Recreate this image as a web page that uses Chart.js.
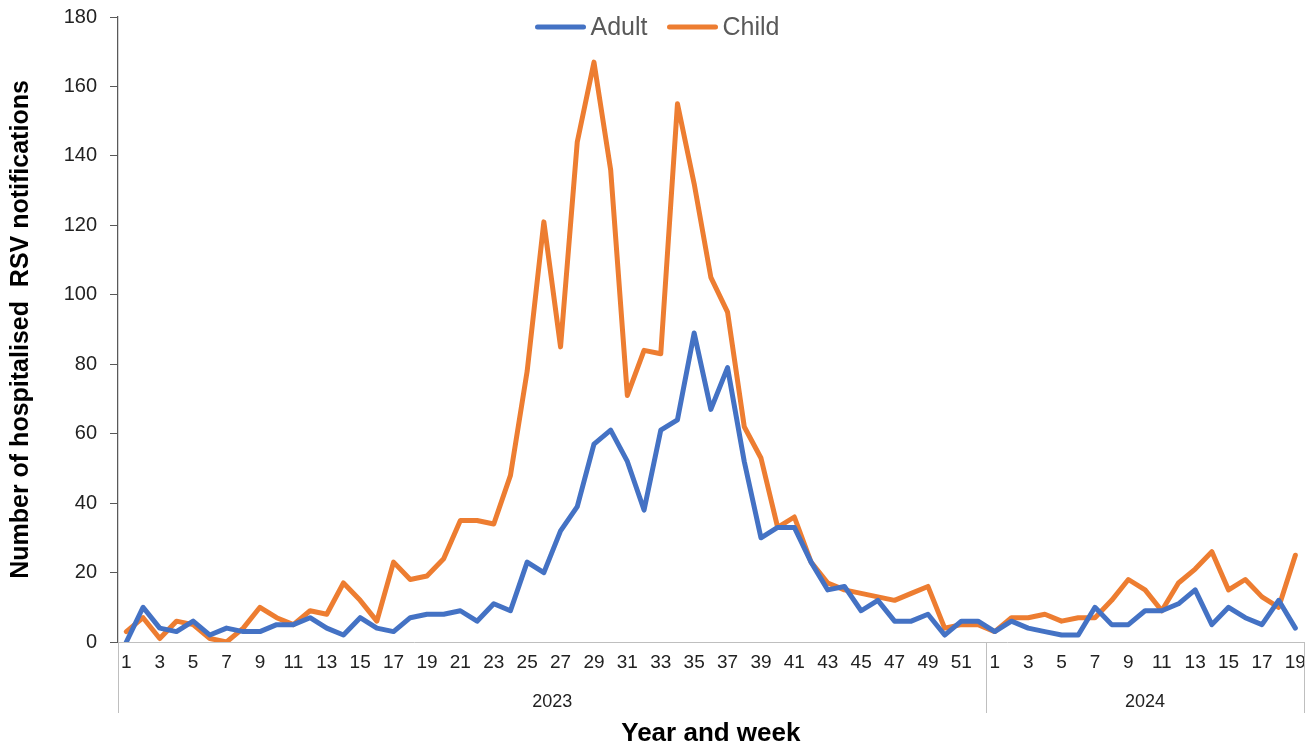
<!DOCTYPE html>
<html>
<head>
<meta charset="utf-8">
<title>Hospitalised RSV notifications</title>
<script src="https://cdn.jsdelivr.net/npm/chart.js@4.4.0/dist/chart.umd.min.js"></script>
<style>
  html, body { margin: 0; padding: 0; background: #fff; }
  #wrap { width: 1315px; height: 749px; position: relative; }
</style>
</head>
<body>
<div id="wrap"><canvas id="rsvChart"></canvas></div>
<script>
// Week labels (2023 weeks 1-52, then 2024 weeks 1-19)
const weekLabels = [
  1, 2, 3, 4, 5, 6, 7, 8, 9, 10, 11, 12, 13, 14, 15, 16, 17, 18, 19, 20,
  21, 22, 23, 24, 25, 26, 27, 28, 29, 30, 31, 32, 33, 34, 35, 36, 37, 38, 39, 40,
  41, 42, 43, 44, 45, 46, 47, 48, 49, 50, 51, 52,
  1, 2, 3, 4, 5, 6, 7, 8, 9, 10, 11, 12, 13, 14, 15, 16, 17, 18, 19
];
const yearLabels = ['2023', '2024'];
const weeksPerYear = [52, 19];

const adultValues = [
  0, 10, 4, 3, 6, 2, 4, 3, 3, 5, 5, 7, 4, 2, 7, 4, 3, 7, 8, 8,
  9, 6, 11, 9, 23, 20, 32, 39, 57, 61, 52, 38, 61, 64, 89, 67, 79, 52, 30, 33,
  33, 23, 15, 16, 9, 12, 6, 6, 8, 2, 6, 6,
  3, 6, 4, 3, 2, 2, 10, 5, 5, 9, 9, 11, 15, 5, 10, 7, 5, 12, 4
];
const childValues = [
  3, 7, 1, 6, 5, 1, 0, 4, 10, 7, 5, 9, 8, 17, 12, 6, 23, 18, 19, 24,
  35, 35, 34, 48, 78, 121, 85, 144, 167, 136, 71, 84, 83, 155, 132, 105, 95, 62, 53, 33,
  36, 23, 17, 15, 14, 13, 12, 14, 16, 4, 5, 5,
  3, 7, 7, 8, 6, 7, 7, 12, 18, 15, 9, 17, 21, 26, 15, 18, 13, 10, 25
];
const yTicks = [0, 20, 40, 60, 80, 100, 120, 140, 160, 180];

const FONT = '"Liberation Sans", Arial, sans-serif';
const AXIS_GREY = '#bfbfbf';
const TEXT_DARK = '#222';

// Draws the year group labels and their separator lines under the week axis
const yearGroupPlugin = {
  id: 'yearGroups',
  afterDraw(chart) {
    const x = chart.scales.x;
    const ctx = chart.ctx;
    const top = x.top;
    const bottom = x.top + 71;
    const step = x.getPixelForValue(1) - x.getPixelForValue(0);

    const edges = [x.left];
    let idx = 0;
    weeksPerYear.forEach(n => {
      idx += n;
      edges.push(x.getPixelForValue(idx - 1) + step / 2);
    });

    ctx.save();
    ctx.strokeStyle = AXIS_GREY;
    ctx.lineWidth = 1;
    edges.forEach(px => {
      ctx.beginPath();
      ctx.moveTo(Math.round(px) + 0.5, top);
      ctx.lineTo(Math.round(px) + 0.5, bottom);
      ctx.stroke();
    });

    ctx.fillStyle = TEXT_DARK;
    ctx.font = '18px ' + FONT;
    ctx.textAlign = 'center';
    ctx.textBaseline = 'middle';
    yearLabels.forEach((label, i) => {
      ctx.fillText(label, (edges[i] + edges[i + 1]) / 2, top + 60);
    });
    ctx.restore();
  }
};

// Horizontal legend laid over the top of the plot, centred on the canvas
const topLegendPlugin = {
  id: 'topLegend',
  afterDraw(chart) {
    const ctx = chart.ctx;
    const lineLen = 50;
    const gapText = 5;
    const gapItem = 20;
    const y = 27;

    ctx.save();
    ctx.font = '25px ' + FONT;
    ctx.textBaseline = 'middle';
    const items = chart.data.datasets.map(ds => ({
      ds,
      w: lineLen + gapText + ctx.measureText(ds.label).width
    }));
    const total = items.reduce((s, it) => s + it.w, 0) + gapItem * (items.length - 1);
    let x = chart.width / 2 - total / 2;

    items.forEach(it => {
      ctx.strokeStyle = it.ds.borderColor;
      ctx.lineWidth = 5;
      ctx.lineCap = 'round';
      ctx.beginPath();
      ctx.moveTo(x + 2, y);
      ctx.lineTo(x + lineLen - 2, y);
      ctx.stroke();
      ctx.fillStyle = '#595959';
      ctx.fillText(it.ds.label, x + lineLen + gapText, y + 1);
      x += it.w + gapItem;
    });
    ctx.restore();
  }
};

const ctx = document.getElementById('rsvChart');

new Chart(ctx, {
  type: 'line',
  data: {
    labels: weekLabels.map(String),
    datasets: [{
      label: 'Adult',
      data: adultValues,
      borderColor: '#4472C4',
      backgroundColor: '#4472C4',
      borderWidth: 5,
      pointRadius: 0,
      pointHoverRadius: 0,
      borderJoinStyle: 'round',
      borderCapStyle: 'round',
      tension: 0
    }, {
      label: 'Child',
      data: childValues,
      borderColor: '#ED7D31',
      backgroundColor: '#ED7D31',
      borderWidth: 5,
      pointRadius: 0,
      pointHoverRadius: 0,
      borderJoinStyle: 'round',
      borderCapStyle: 'round',
      tension: 0
    }]
  },
  options: {
    responsive: true,
    maintainAspectRatio: false,
    animation: false,
    layout: {
      padding: { top: 17, right: 10, bottom: 0, left: 0 }
    },
    plugins: {
      legend: { display: false },
      tooltip: { enabled: false }
    },
    scales: {
      x: {
        type: 'category',
        offset: true,
        grid: { display: false, drawTicks: false },
        border: { display: true, color: AXIS_GREY, width: 1 },
        ticks: {
          autoSkip: false,
          maxRotation: 0,
          minRotation: 0,
          padding: 9,
          color: TEXT_DARK,
          font: { family: FONT, size: 19 },
          callback: function(value, index) {
            const w = weekLabels[index];
            return w % 2 === 1 ? String(w) : '';
          }
        },
        title: {
          display: true,
          text: 'Year and week',
          color: '#000',
          font: { family: FONT, size: 26, weight: 'bold' },
          padding: { top: 0, bottom: 0 }
        },
        afterFit: function(scale) {
          scale.height = 107;
        }
      },
      y: {
        min: 0,
        max: 180,
        afterBuildTicks: function(scale) {
          scale.ticks = yTicks.map(v => ({ value: v }));
        },
        grid: {
          drawOnChartArea: false,
          drawTicks: true,
          tickLength: 8,
          color: '#595959'
        },
        border: { display: true, color: '#595959', width: 1.25 },
        ticks: {
          padding: 13,
          color: TEXT_DARK,
          // small lineHeight keeps the top label from pushing the plot down
          font: { family: FONT, size: 20, lineHeight: 0.3 }
        },
        title: {
          display: true,
          text: 'Number of hospitalised  RSV notifications',
          color: '#000',
          font: { family: FONT, size: 25, weight: 'bold' },
          padding: { top: 6, bottom: 0 }
        },
        afterFit: function(scale) {
          scale.width = 118;
        }
      }
    }
  },
  plugins: [yearGroupPlugin, topLegendPlugin]
});
</script>
</body>
</html>
